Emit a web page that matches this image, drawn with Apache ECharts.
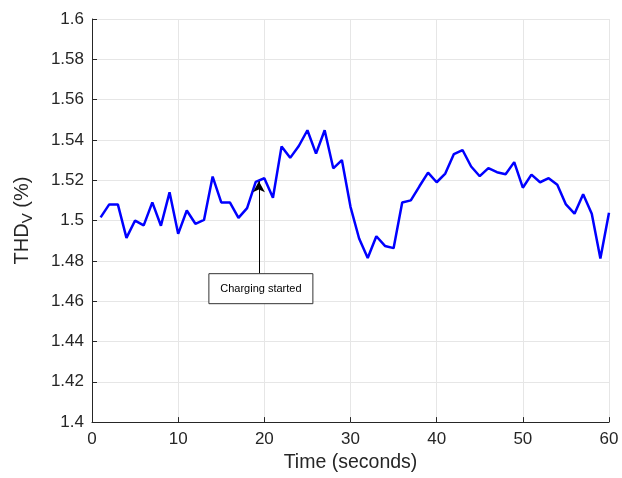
<!DOCTYPE html>
<html><head><meta charset="utf-8">
<script src="https://cdn.jsdelivr.net/npm/echarts@6/dist/echarts.min.js"></script>
<style>html,body{margin:0;padding:0;background:#fff}#c{width:622px;height:478px}</style>
</head><body><div id="c"></div>
<script>
var times = [1,2,3,4,5,6,7,8,9,10,11,12,13,14,15,16,17,18,19,20,21,22,23,24,25,26,27,28,29,30,31,32,33,34,35,36,37,38,39,40,41,42,43,44,45,46,47,48,49,50,51,52,53,54,55,56,57,58,59,60];
var thdValues = [1.5016,1.508,1.508,1.4914,1.500,1.4976,1.509,1.4974,1.514,1.4934,1.505,1.4984,1.5003,1.5218,1.509,1.509,1.5013,1.5062,1.5192,1.521,1.5113,1.5368,1.5311,1.537,1.5448,1.5332,1.5448,1.5259,1.530,1.5068,1.4911,1.4814,1.4922,1.4874,1.4863,1.509,1.510,1.517,1.5238,1.519,1.5233,1.533,1.535,1.5268,1.522,1.526,1.524,1.523,1.529,1.5163,1.5228,1.519,1.521,1.5178,1.508,1.5034,1.513,1.5034,1.4812,1.5039];
var annotationText = 'Charging started';
var arrowFrom = [19.37, 1.4738];
var arrowTo = [19.37, 1.5195];
var boxCenter = [19.6, 1.4662];

var txt = '#262626';
var font = 'Liberation Sans';
var chart = echarts.init(document.getElementById('c'));
chart.setOption({
  animation: false,
  grid: {left: 92, right: 13, top: 19, bottom: 49},
  xAxis: {
    type: 'value', min: 0, max: 60, interval: 10,
    name: 'Time (seconds)', nameLocation: 'middle', nameGap: 29,
    nameTextStyle: {color: txt, fontSize: 19.5, fontFamily: font},
    axisLine: {show: true, lineStyle: {color: '#262626', width: 1}},
    axisTick: {show: true, inside: true, length: 5, lineStyle: {color: '#262626'}},
    axisLabel: {color: txt, fontSize: 17, fontFamily: font, margin: 9},
    splitLine: {show: true, lineStyle: {color: '#e6e6e6', width: 1}}
  },
  yAxis: {
    type: 'value', min: 1.4, max: 1.6, interval: 0.02,
    name: '{a|THD}{s|V}{a| (%)}', nameLocation: 'middle', nameGap: 57, nameRotate: 90,
    nameTextStyle: {rich: {
      a: {color: txt, fontSize: 20, fontFamily: font},
      s: {color: txt, fontSize: 15, fontFamily: font, verticalAlign: 'bottom', padding: [10,0,0,0]}
    }},
    axisLine: {show: true, lineStyle: {color: '#262626', width: 1}},
    axisTick: {show: true, inside: true, length: 5, lineStyle: {color: '#262626'}},
    axisLabel: {color: txt, fontSize: 17, fontFamily: font, margin: 8,
      formatter: function(v){ return String(Math.round(v*100)/100); }},
    splitLine: {show: true, lineStyle: {color: '#e6e6e6', width: 1}}
  },
  series: [{
    type: 'line',
    data: times.map(function(t,i){ return [t, thdValues[i]]; }),
    showSymbol: false,
    lineStyle: {color: '#0000ff', width: 2.5},
    itemStyle: {color: '#0000ff'},
    markLine: {
      silent: true, animation: false,
      symbol: ['none', 'arrow'], symbolSize: [9, 11],
      lineStyle: {color: '#000', width: 1, type: 'solid'},
      label: {show: false},
      data: [[{coord: arrowFrom}, {coord: arrowTo}]]
    }
  }]
});
var c = chart.convertToPixel({gridIndex: 0}, boxCenter);
chart.setOption({graphic: [{
  type: 'rect', shape: {x: c[0]-52, y: c[1]-15, width: 104, height: 30},
  style: {fill: '#fff', stroke: '#333', lineWidth: 1}, z: 100
},{
  type: 'text', x: c[0], y: c[1],
  style: {text: annotationText, fill: '#000', fontSize: 11, fontFamily: font, align: 'center', verticalAlign: 'middle'}, z: 101
}]});
</script>
</body></html>
